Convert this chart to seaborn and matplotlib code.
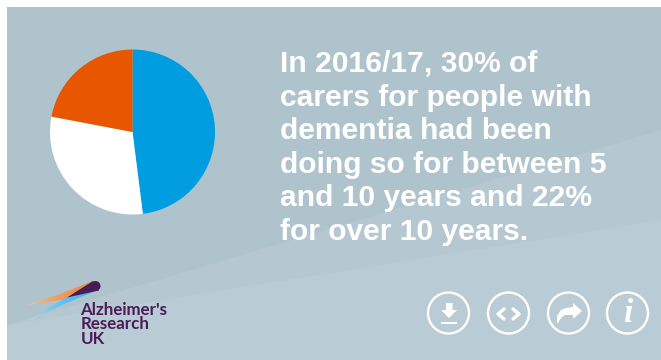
import numpy as np
import matplotlib
matplotlib.use("Agg")
import matplotlib.pyplot as plt
from matplotlib.colors import LinearSegmentedColormap
from matplotlib.patches import Circle, Polygon
import seaborn as sns

# Share of carers by length of time caring, clockwise from twelve o'clock
durations = ["Under 5 years", "5 to 10 years", "Over 10 years"]
shares = [48, 30, 22]
slice_colors = ["#009ee0", "#ffffff", "#e85700"]

headline = ["In 2016/17, 30% of", "carers for people with", "dementia had been",
            "doing so for between 5", "and 10 years and 22%", "for over 10 years."]
logo_words = ["Alzheimer's", "Research", "UK"]

W, H = 661, 360
sns.set_theme(style="white")
plt.rcParams["font.family"] = ["Liberation Sans", "DejaVu Sans"]

fig = plt.figure(figsize=(W / 100, H / 100), dpi=100, facecolor="white")
canvas = fig.add_axes([0, 0, 1, 1])
canvas.set_xlim(0, W)
canvas.set_ylim(H, 0)
canvas.axis("off")

# Panel background with its lighter diagonal bands
canvas.add_patch(Polygon([(7, 7), (W, 7), (W, H), (7, H)], fc="#afc3cc", ec="none"))
canvas.add_patch(Polygon([(7, 325), (W, 130), (W, H), (7, H)], fc="#b5c8d1", ec="none"))
canvas.add_patch(Polygon([(7, 325), (W, 220), (W, H), (7, H)], fc="#b9cbd4", ec="none"))

# Headline
for i, line in enumerate(headline):
    canvas.text(280, 72 + i * 33.6, line, color="white", fontsize=21.6,
                fontweight="bold", va="baseline", ha="left")


def gradient_wedge(points, light, full):
    """Fill a polygon with a left-to-right fade from a light tint to a full colour."""
    cmap = LinearSegmentedColormap.from_list("fade", [light, full])
    xs = [p[0] for p in points]
    ys = [p[1] for p in points]
    ramp = np.linspace(0, 1, 64).reshape(1, -1) ** 0.5
    img = canvas.imshow(ramp, cmap=cmap, aspect="auto", interpolation="bilinear",
                        extent=(min(xs), max(xs), max(ys), min(ys)), zorder=2)
    clip = Polygon(points, transform=canvas.transData, fc="none", ec="none")
    canvas.add_patch(clip)
    img.set_clip_path(clip)


# Logo swoosh and wordmark
gradient_wedge([(27, 305), (60, 294), (93, 281), (67, 299)], "#f0d2bb", "#f0853a")
gradient_wedge([(30, 320), (50, 307), (67, 297), (100, 289), (64, 304)], "#cbe9f6", "#2fb0ee")
canvas.add_patch(Polygon([(67, 297.5), (93, 281), (99, 290.5)], fc="#4a1c55", ec="none", zorder=3))
canvas.add_patch(Circle((95.5, 286), 5, fc="#4a1c55", ec="none", zorder=3))
for i, word in enumerate(logo_words):
    canvas.text(80.5, 315 + i * 14.3, word, color="#4a1c55", fontsize=12.2,
                family="Lato", fontweight="bold", va="baseline", ha="left", zorder=3)

# Action buttons
for cx in (448.5, 508.5, 568.5, 627.5):
    canvas.add_patch(Circle((cx, 313), 20.5, fc="none", ec="white", lw=1.7))

# Download
canvas.add_patch(Polygon([(446, 303), (452.5, 303), (452.5, 310), (457, 310), (449, 318), (441, 310), (446, 310)],
                         fc="white", ec="none"))
canvas.plot([441, 457], [323, 323], color="white", lw=1.4, solid_capstyle="butt")
# Embed
canvas.plot([504, 498, 504], [309, 314, 319], color="white", lw=2.4)
canvas.plot([513, 519, 513], [309, 314, 319], color="white", lw=2.4)
# Share
canvas.add_patch(Polygon([(573, 303), (582, 311), (573, 319), (573, 315), (565, 315), (561, 318), (558, 323),
                          (557, 323), (557, 316), (561, 310), (566, 308), (573, 307)], fc="white", ec="none"))
# Info
canvas.text(627.5, 314, "i", color="white", fontsize=24, family="Liberation Serif",
            style="italic", fontweight="bold", ha="center", va="center")

# The imshow calls above reset the limits of the full-panel axes
canvas.set_xlim(0, W)
canvas.set_ylim(H, 0)

# Pie of carer durations
cx, cy, r = 132.5, 132, 82.5
pie_ax = fig.add_axes([(cx - r) / W, 1 - (cy + r) / H, 2 * r / W, 2 * r / H])
pie_ax.pie(shares, colors=sns.color_palette(slice_colors), startangle=90, counterclock=False,
           radius=1, wedgeprops={"linewidth": 0})
pie_ax.set_xlim(-1, 1)
pie_ax.set_ylim(-1, 1)

fig.savefig("out.png", dpi=100, facecolor="white")
